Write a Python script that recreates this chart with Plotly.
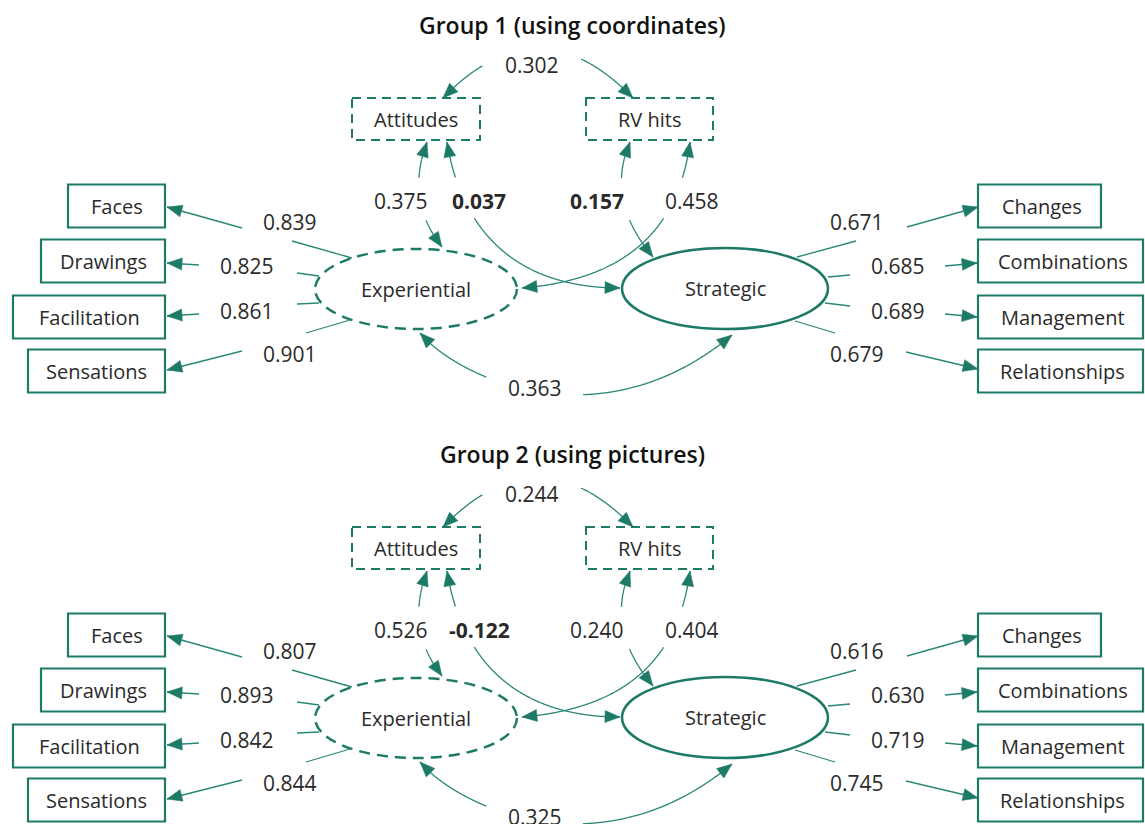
import numpy as np
import plotly.graph_objects as go

# ---------------- data ----------------
group_titles = ["Group 1 (using coordinates)", "Group 2 (using pictures)"]
experiential_indicators = ["Faces", "Drawings", "Facilitation", "Sensations"]
strategic_indicators = ["Changes", "Combinations", "Management", "Relationships"]
covariates = ["Attitudes", "RV hits"]
latent_factors = ["Experiential", "Strategic"]

experiential_loadings = [[0.839, 0.825, 0.861, 0.901],
                         [0.807, 0.893, 0.842, 0.844]]
strategic_loadings = [[0.671, 0.685, 0.689, 0.679],
                      [0.616, 0.630, 0.719, 0.745]]
attitudes_rvhits = [0.302, 0.244]
attitudes_experiential = [0.375, 0.526]
attitudes_strategic = [0.037, -0.122]
rvhits_strategic = [0.157, 0.240]
rvhits_experiential = [0.458, 0.404]
experiential_strategic = [0.363, 0.325]
attitudes_strategic_bold = [True, True]
rvhits_strategic_bold = [True, False]

# ---------------- layout geometry (pixels, group 1; group 2 shifted) ----------------
W, H = 1145, 824
DY = 429
TEAL = "#1c7a67"
LINE = "#2b8775"
TXT = "#2a2a2a"
FONT = "Open Sans"

left_box_x0 = [68, 41, 13, 28]
left_box_x1 = 165
right_box_x0 = 978
right_box_x1 = [1101, 1143, 1143, 1143]
box_yc = [206, 261, 317, 371]
box_h2 = 21.5

exp_ell = (315, 517, 249, 329)
str_ell = (622, 828, 248, 329)
att_box = (352, 480, 98, 140)
rv_box = (586, 713, 98, 140)

left_lines = [  # (a, b, c, tip, label)
    ((352, 258), (292, 241), (242, 228), (167, 207), (290, 222)),
    ((319, 276), (297, 273), (199, 265), (167, 263), (247, 266)),
    ((319, 303), (297, 304), (199, 314), (167, 316), (247, 311)),
    ((350, 320), (306, 333), (242, 351), (167, 370), (290, 354)),
]
right_lines = [
    ((797, 257), (856, 241), (907, 227), (978, 207), (857, 222)),
    ((828, 277), (850, 275), (945, 266), (977, 263), (898, 266)),
    ((825, 303), (850, 306), (945, 314), (977, 317), (898, 311)),
    ((795, 321), (835, 333), (906, 352), (978, 369), (857, 354)),
]
# curves: control points, gap box (x0,x1,y0,y1), label position
curves = {
    "att_rv": ([(443, 98), (538, 0), (633, 98)], (483, 581, -50, 200), (532, 65)),
    "att_exp": ([(427, 142), (405, 200), (442, 247)], (380, 436, 178, 220), (401, 201)),
    "att_str": ([(447, 142), (462, 235), (520, 288), (620, 288)], (440, 500, 178, 218), (479, 201)),
    "rv_str": ([(630, 142), (605, 200), (653, 257)], (590, 640, 178, 220), (597, 201)),
    "rv_exp": ([(690, 142), (678, 235), (620, 280), (522, 288)], (650, 700, 178, 218), (692, 201)),
    "exp_str": ([(420, 333), (458, 378), (600, 445), (732, 335)], (487, 583, 300, 460), (535, 388)),
}


def bezier(pts, n=400):
    t = np.linspace(0, 1, n)[:, None]
    p = np.array(pts, dtype=float)
    if len(p) == 3:
        return (1 - t) ** 2 * p[0] + 2 * (1 - t) * t * p[1] + t ** 2 * p[2]
    return ((1 - t) ** 3 * p[0] + 3 * (1 - t) ** 2 * t * p[1]
            + 3 * (1 - t) * t ** 2 * p[2] + t ** 3 * p[3])


def path_from(pts):
    return "M " + " L ".join(f"{x:.2f},{y:.2f}" for x, y in pts)


shapes = []
annotations = []


def add_line(pts, width=1.3, color=LINE):
    shapes.append(dict(type="path", path=path_from(pts), line=dict(color=color, width=width),
                       layer="above"))


def add_head(tip, frm, L=15, Wh=6):
    tip = np.array(tip, float)
    d = tip - np.array(frm, float)
    d = d / np.hypot(*d)
    base = tip - d * L
    nrm = np.array([-d[1], d[0]])
    p1 = base + nrm * Wh
    p2 = base - nrm * Wh
    shapes.append(dict(type="path", path=path_from([tip, p1, p2]) + " Z",
                       fillcolor=TEAL, line=dict(color=TEAL, width=0.5), layer="above"))


def point_back(curve, from_end, dist=15):
    pts = curve if from_end else curve[::-1]
    tip = pts[-1]
    dd = np.hypot(pts[:, 0] - tip[0], pts[:, 1] - tip[1])
    idx = np.where(dd >= dist)[0]
    return pts[idx[-1]] if len(idx) else pts[0]


def text(x, y, s, size=20, bold=False, color=TXT):
    annotations.append(dict(x=x, y=y, text=f"<b>{s}</b>" if bold else s, showarrow=False,
                            font=dict(family=FONT, size=size, color=color),
                            xanchor="center", yanchor="middle"))


for g in range(2):
    oy = g * DY
    # title
    annotations.append(dict(x=572, y=25 + oy, text=group_titles[g], showarrow=False,
                            font=dict(family=FONT, size=23, color="#111111", weight=600),
                            xanchor="center", yanchor="middle"))
    # indicator boxes
    for i in range(4):
        yc = box_yc[i] + oy
        shapes.append(dict(type="rect", x0=left_box_x0[i], x1=left_box_x1, y0=yc - box_h2,
                           y1=yc + box_h2, line=dict(color=TEAL, width=2.2)))
        text((left_box_x0[i] + left_box_x1) / 2, yc, experiential_indicators[i])
        shapes.append(dict(type="rect", x0=right_box_x0, x1=right_box_x1[i], y0=yc - box_h2,
                           y1=yc + box_h2, line=dict(color=TEAL, width=2.2)))
        text((right_box_x0 + right_box_x1[i]) / 2 + 2, yc, strategic_indicators[i])
    # covariate boxes (dashed)
    for bx, name in zip([att_box, rv_box], covariates):
        shapes.append(dict(type="rect", x0=bx[0], x1=bx[1], y0=bx[2] + oy, y1=bx[3] + oy,
                           line=dict(color=TEAL, width=2, dash="9px,6px")))
        text((bx[0] + bx[1]) / 2, (bx[2] + bx[3]) / 2 + oy, name)
    # latent ellipses
    shapes.append(dict(type="circle", x0=exp_ell[0], x1=exp_ell[1], y0=exp_ell[2] + oy,
                       y1=exp_ell[3] + oy, line=dict(color=TEAL, width=2.5, dash="11px,7px")))
    text((exp_ell[0] + exp_ell[1]) / 2, (exp_ell[2] + exp_ell[3]) / 2 + oy, latent_factors[0])
    shapes.append(dict(type="circle", x0=str_ell[0], x1=str_ell[1], y0=str_ell[2] + oy,
                       y1=str_ell[3] + oy, line=dict(color=TEAL, width=2.5)))
    text((str_ell[0] + str_ell[1]) / 2, (str_ell[2] + str_ell[3]) / 2 + oy, latent_factors[1])

    # loadings
    for geo_list, vals in [(left_lines, experiential_loadings[g]),
                           (right_lines, strategic_loadings[g])]:
        for (a, b, c, tip, lab), v in zip(geo_list, vals):
            a_ = (a[0], a[1] + oy); b_ = (b[0], b[1] + oy)
            c_ = (c[0], c[1] + oy); t_ = (tip[0], tip[1] + oy)
            add_line([a_, b_])
            add_line([c_, t_])
            add_head(t_, c_)
            text(lab[0], lab[1] + oy, f"{v:.3f}", size=21)

    # curved paths
    values = {
        "att_rv": (attitudes_rvhits[g], False),
        "att_exp": (attitudes_experiential[g], False),
        "att_str": (attitudes_strategic[g], attitudes_strategic_bold[g]),
        "rv_str": (rvhits_strategic[g], rvhits_strategic_bold[g]),
        "rv_exp": (rvhits_experiential[g], False),
        "exp_str": (experiential_strategic[g], False),
    }
    for key, (ctrl, gap, lab) in curves.items():
        pts = [(x, y + oy) for x, y in ctrl]
        cv = bezier(pts)
        gx0, gx1, gy0, gy1 = gap
        inside = ((cv[:, 0] >= gx0) & (cv[:, 0] <= gx1) &
                  (cv[:, 1] >= gy0 + oy) & (cv[:, 1] <= gy1 + oy))
        runs, cur = [], []
        for p, hid in zip(cv, inside):
            if hid:
                if len(cur) > 1:
                    runs.append(cur)
                cur = []
            else:
                cur.append(p)
        if len(cur) > 1:
            runs.append(cur)
        for r in runs:
            add_line(r)
        add_head(cv[0], point_back(cv, False))
        add_head(cv[-1], point_back(cv, True))
        v, bold = values[key]
        text(lab[0], lab[1] + oy, f"{v:.3f}", size=21, bold=bold)

fig = go.Figure()
fig.update_layout(
    width=W, height=H, margin=dict(l=0, r=0, t=0, b=0),
    paper_bgcolor="white", plot_bgcolor="white",
    xaxis=dict(range=[0, W], visible=False, fixedrange=True),
    yaxis=dict(range=[H, 0], visible=False, fixedrange=True),
    shapes=shapes, annotations=annotations, showlegend=False,
)
fig.write_html("out.html", config={"displayModeBar": False},
               post_script="document.body.style.margin='0';document.body.style.overflow='hidden';")
